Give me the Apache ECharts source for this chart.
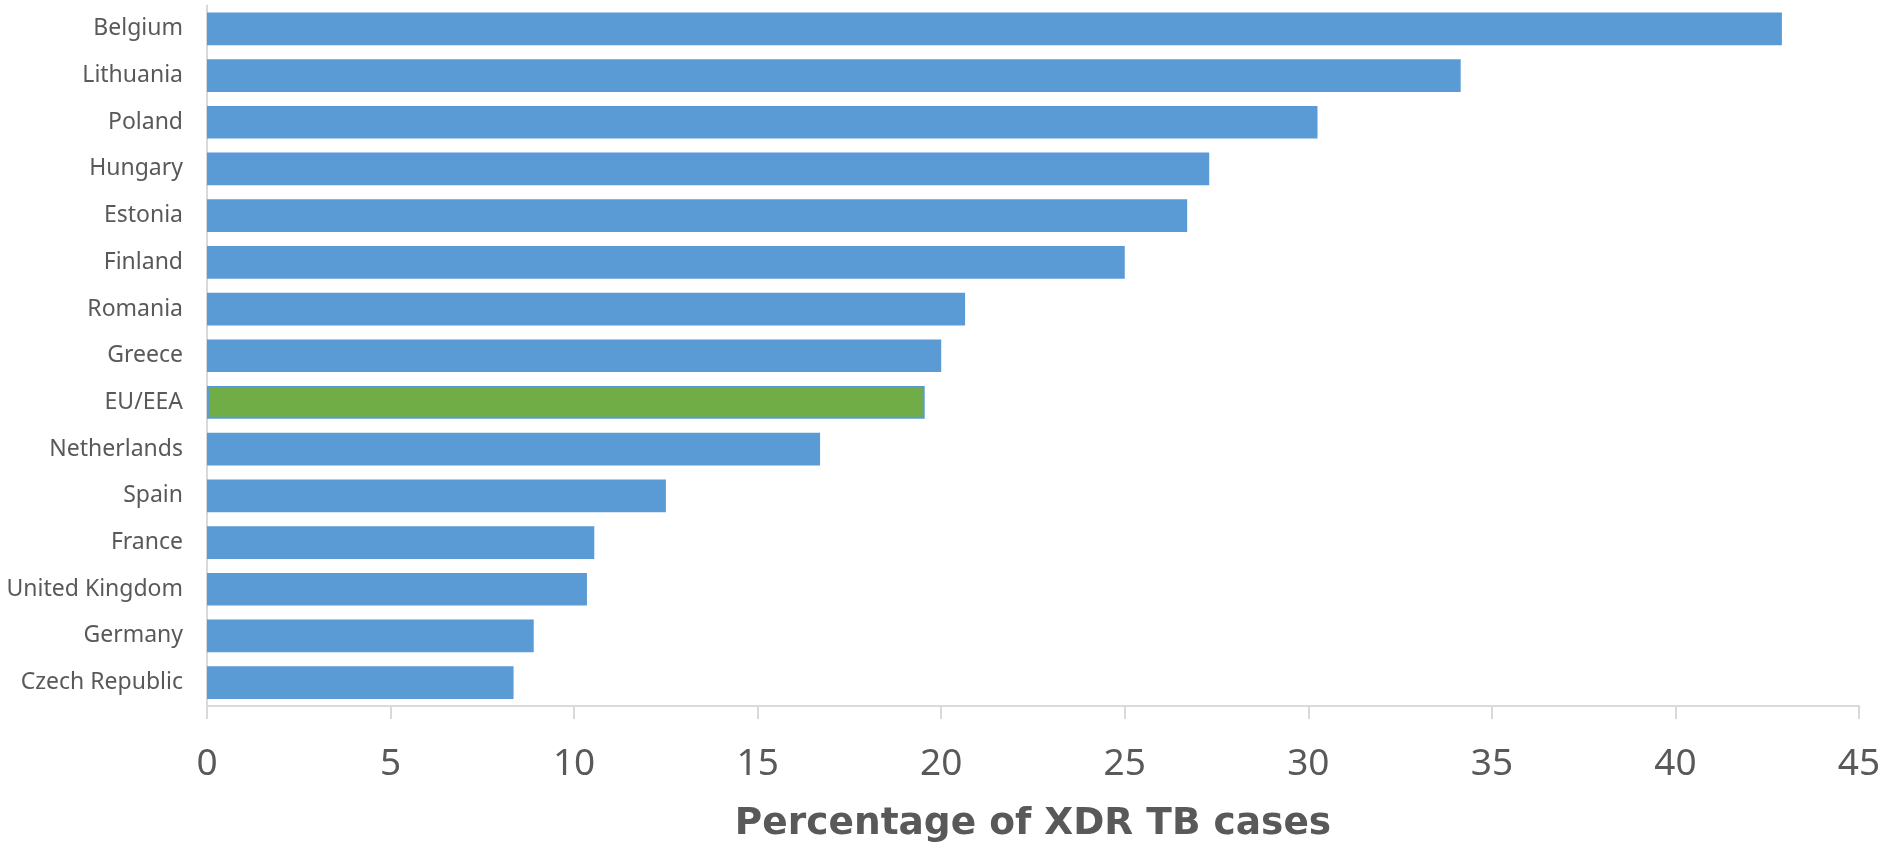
<!DOCTYPE html>
<html>
<head>
<meta charset="utf-8">
<script src="https://cdn.jsdelivr.net/npm/echarts@6/dist/echarts.min.js"></script>
<style>
html,body{margin:0;padding:0;background:#fff;}
#chart{width:1888px;height:843px;}
</style>
</head>
<body>
<div id="chart"></div>
<script>
const categories = ["Belgium","Lithuania","Poland","Hungary","Estonia","Finland","Romania","Greece","EU/EEA","Netherlands","Spain","France","United Kingdom","Germany","Czech Republic"];
const values = [42.9, 34.15, 30.25, 27.3, 26.7, 25.0, 20.65, 20.0, 19.55, 16.7, 12.5, 10.55, 10.35, 8.9, 8.35];
const highlightCategory = "EU/EEA";
const axisTitle = "Percentage of XDR TB cases";

const BLUE = "#5B9BD5", GREEN = "#70AD47", TEXT = "#595959", LINE = "#D9D9D9";

const chart = echarts.init(document.getElementById('chart'), null, {renderer: 'canvas'});
chart.setOption({
  animation: false,
  backgroundColor: '#fff',
  grid: {left: 207, right: 29, top: 5.5, bottom: 137, containLabel: false, outerBoundsMode: 'none'},
  xAxis: {
    type: 'value', min: 0, max: 45, interval: 5,
    name: axisTitle, nameLocation: 'middle', nameGap: 99,
    nameTextStyle: {fontFamily: "'DejaVu Sans', Verdana, sans-serif", fontWeight: 'bold', fontSize: 37.5, color: TEXT},
    axisLine: {show: true, lineStyle: {color: LINE, width: 2}},
    axisTick: {show: true, length: 13, lineStyle: {color: LINE, width: 2}},
    axisLabel: {fontFamily: "'Noto Sans', sans-serif", fontSize: 37, color: TEXT, margin: 40},
    splitLine: {show: false}
  },
  yAxis: {
    type: 'category', data: categories, inverse: true,
    axisLine: {show: true, lineStyle: {color: LINE, width: 2}},
    axisTick: {show: false},
    axisLabel: {fontFamily: "'Noto Sans', sans-serif", fontSize: 23, color: TEXT, margin: 24}
  },
  series: [{
    type: 'bar',
    barCategoryGap: '30%',
    data: values.map((v, i) => categories[i] === highlightCategory
      ? {value: v, itemStyle: {color: GREEN, borderColor: BLUE, borderWidth: 2}}
      : {value: v, itemStyle: {color: BLUE}})
  }]
});
</script>
</body>
</html>
